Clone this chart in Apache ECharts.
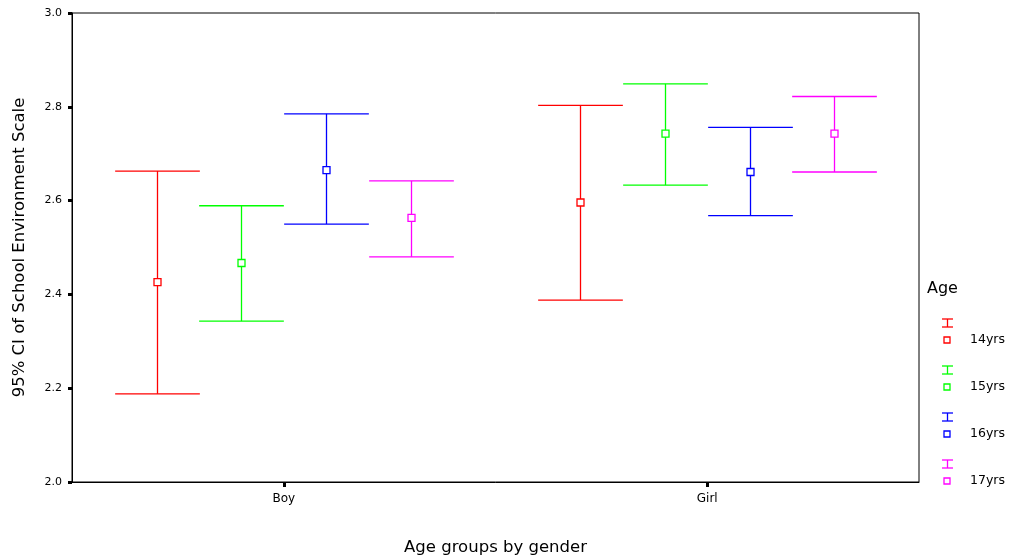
<!DOCTYPE html>
<html>
<head>
<meta charset="utf-8">
<script src="https://cdn.jsdelivr.net/npm/echarts@6/dist/echarts.min.js"></script>
<style>
  html, body { margin: 0; padding: 0; background: #fff; }
  #chart { width: 1012px; height: 557px; }
</style>
</head>
<body>
<div id="chart"></div>
<script>
// Groups on the x axis and the age series drawn inside each group
const categories = ['Boy', 'Girl'];
const ageGroups = ['14yrs', '15yrs', '16yrs', '17yrs'];
const ageColors = ['#FF0000', '#00FF00', '#0000FF', '#FF00FF'];
const yTicks = [2.0, 2.2, 2.4, 2.6, 2.8, 3.0];

// 95% confidence interval per age group: [Boy, Girl]
const lower14 = [2.188, 2.388];
const mean14  = [2.426, 2.596];
const upper14 = [2.663, 2.803];

const lower15 = [2.343, 2.633];
const mean15  = [2.467, 2.743];
const upper15 = [2.589, 2.849];

const lower16 = [2.550, 2.568];
const mean16  = [2.665, 2.661];
const upper16 = [2.785, 2.756];

const lower17 = [2.480, 2.661];
const mean17  = [2.563, 2.743];
const upper17 = [2.642, 2.822];

const lowers = [lower14, lower15, lower16, lower17];
const means = [mean14, mean15, mean16, mean17];
const uppers = [upper14, upper15, upper16, upper17];

const FONT = '"DejaVu Sans", "Liberation Sans", sans-serif';
const nSlots = ageGroups.length + 1;

function makeRenderItem(seriesIdx, color) {
  return function (params, api) {
    const cat = api.value(0);
    const lo = api.coord([cat, api.value(1)]);
    const hi = api.coord([cat, api.value(2)]);
    const mid = api.coord([cat, api.value(3)]);
    const band = api.size([1, 0])[0];
    const slot = band / nSlots;
    const dx = (seriesIdx - (ageGroups.length - 1) / 2) * slot;
    const x = Math.round(lo[0] + dx) + 0.5;
    const half = slot / 2;
    const style = { stroke: color, lineWidth: 1.3 };
    const sq = 7;
    return {
      type: 'group',
      children: [
        { type: 'line', shape: { x1: x, y1: hi[1], x2: x, y2: lo[1] }, style: style },
        { type: 'line', shape: { x1: x - half, y1: hi[1], x2: x + half, y2: hi[1] }, style: style },
        { type: 'line', shape: { x1: x - half, y1: lo[1], x2: x + half, y2: lo[1] }, style: style },
        { type: 'rect', shape: { x: x - sq / 2, y: mid[1] - sq / 2, width: sq, height: sq },
          style: { fill: '#fff', stroke: color, lineWidth: 1.3 } }
      ]
    };
  };
}

const series = ageGroups.map((name, i) => ({
  name: name,
  type: 'custom',
  renderItem: makeRenderItem(i, ageColors[i]),
  encode: { x: 0, y: [1, 2, 3] },
  data: categories.map((c, k) => [k, lowers[i][k], uppers[i][k], means[i][k]])
}));

// Legend block: cap-bar icon, mean square and label for each age group
const legendGraphics = [
  { type: 'text', left: 927, top: 281,
    style: { text: 'Age', font: '16px ' + FONT, fill: '#000' } }
];
ageGroups.forEach((name, i) => {
  const yBase = 323 + i * 47;
  const c = ageColors[i];
  legendGraphics.push(
    { type: 'group', children: [
      { type: 'line', shape: { x1: 942, y1: yBase - 4, x2: 953, y2: yBase - 4 }, style: { stroke: c, lineWidth: 1.3 } },
      { type: 'line', shape: { x1: 942, y1: yBase + 4, x2: 953, y2: yBase + 4 }, style: { stroke: c, lineWidth: 1.3 } },
      { type: 'line', shape: { x1: 947.5, y1: yBase - 4, x2: 947.5, y2: yBase + 4 }, style: { stroke: c, lineWidth: 1.3 } },
      { type: 'rect', shape: { x: 944, y: yBase + 14, width: 6, height: 6 }, style: { fill: '#fff', stroke: c, lineWidth: 1.3 } },
      { type: 'text', x: 970, y: yBase + 17,
        style: { text: name, font: '12.5px ' + FONT, fill: '#000', verticalAlign: 'middle' } }
    ]}
  );
});

const chart = echarts.init(document.getElementById('chart'), null, { renderer: 'canvas' });
chart.setOption({
  animation: false,
  backgroundColor: '#fff',
  grid: {
    left: 72, right: 93, top: 13, bottom: 75,
    outerBoundsMode: 'none', containLabel: false,
    show: true, borderColor: '#000', borderWidth: 1, backgroundColor: 'transparent'
  },
  xAxis: {
    type: 'category',
    data: categories,
    boundaryGap: true,
    name: 'Age groups by gender',
    nameLocation: 'middle',
    nameGap: 57,
    nameTextStyle: { fontFamily: FONT, fontSize: 16.5, color: '#000' },
    axisLine: { lineStyle: { color: '#000', width: 1 } },
    axisTick: { show: true, alignWithLabel: true, interval: 0, length: 5,
      lineStyle: { color: '#000', width: 3 } },
    axisLabel: { fontFamily: FONT, fontSize: 12, color: '#000', margin: 11 },
    splitLine: { show: false }
  },
  yAxis: {
    type: 'value',
    min: yTicks[0],
    max: yTicks[yTicks.length - 1],
    interval: 0.2,
    name: '95% CI of School Environment Scale',
    nameLocation: 'middle',
    nameGap: 44,
    nameTextStyle: { fontFamily: FONT, fontSize: 16.5, color: '#000' },
    axisLine: { show: true, lineStyle: { color: '#000', width: 1 } },
    axisTick: { show: true, length: 4, lineStyle: { color: '#000', width: 3 } },
    axisLabel: { fontFamily: FONT, fontSize: 11, color: '#000', margin: 10,
      formatter: v => v.toFixed(1) },
    splitLine: { show: false }
  },
  series: series,
  graphic: legendGraphics
});
</script>
</body>
</html>
